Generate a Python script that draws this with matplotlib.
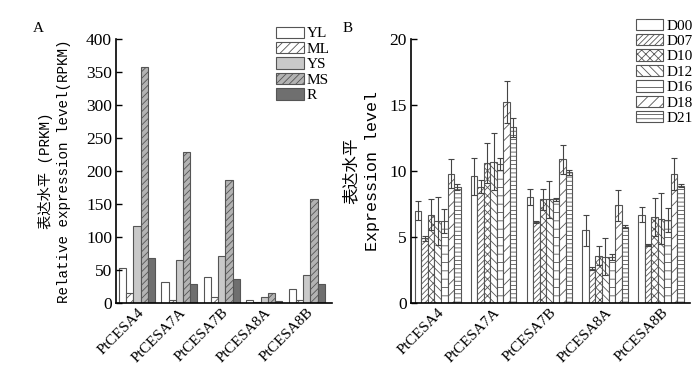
import numpy as np
import matplotlib
matplotlib.use("Agg")
from matplotlib import pyplot as plt

# --- data ---
genes = ["PtCESA4", "PtCESA7A", "PtCESA7B", "PtCESA8A", "PtCESA8B"]

tissues = ["YL", "ML", "YS", "MS", "R"]
rpkm_YL = [53, 32, 39, 4, 22]
rpkm_ML = [16, 5, 9, 1, 5]
rpkm_YS = [117, 65, 72, 10, 43]
rpkm_MS = [358, 229, 186, 16, 158]
rpkm_R = [68, 29, 37, 3, 29]

days = ["D00", "D07", "D10", "D12", "D16", "D18", "D21"]
expr_D00 = [7.0, 9.6, 8.05, 5.5, 6.7]
expr_D07 = [4.9, 8.8, 6.15, 2.6, 4.4]
expr_D10 = [6.7, 10.6, 7.85, 3.6, 6.5]
expr_D12 = [6.2, 10.7, 7.85, 3.5, 6.4]
expr_D16 = [6.2, 10.5, 7.85, 3.5, 6.3]
expr_D18 = [9.8, 15.2, 10.9, 7.4, 9.8]
expr_D21 = [8.8, 13.3, 9.9, 5.8, 8.9]

err_D00 = [0.7, 1.4, 0.6, 1.15, 0.55]
err_D07 = [0.2, 0.5, 0.1, 0.1, 0.1]
err_D10 = [1.2, 1.5, 0.8, 0.75, 1.45]
err_D12 = [1.8, 2.15, 1.4, 1.4, 1.9]
err_D16 = [0.9, 0.45, 0.1, 0.2, 0.9]
err_D18 = [1.1, 1.6, 1.1, 1.2, 1.2]
err_D21 = [0.2, 0.7, 0.2, 0.1, 0.1]

plt.rcParams["hatch.linewidth"] = 0.6
SERIF = "Liberation Serif"
MONO = ["Liberation Mono", "Noto Sans CJK SC"]
EDGE = "#555555"

fig = plt.figure(figsize=(7.0, 3.67), dpi=100)
ax_a = fig.add_axes([0.166, 0.174, 0.308, 0.72])
ax_b = fig.add_axes([0.587, 0.174, 0.399, 0.72])


def style_axis(ax):
    for s in ("top", "right"):
        ax.spines[s].set_visible(False)
    for s in ("left", "bottom"):
        ax.spines[s].set_linewidth(1.2)
    ax.tick_params(axis="y", direction="in", length=4, width=1.0, labelsize=12.5, pad=3)
    ax.tick_params(axis="x", length=0, labelsize=11, pad=2)
    for lab in ax.get_yticklabels():
        lab.set_fontfamily(SERIF)
    ax.set_xticks(np.arange(len(genes)))
    ax.set_xticklabels(genes, rotation=45, ha="right", rotation_mode="anchor",
                       fontfamily=SERIF)


legend_kw = dict(loc="upper right", frameon=False,
                 prop={"family": SERIF, "size": 11}, handlelength=1.8,
                 handleheight=0.75, labelspacing=0.1, handletextpad=0.2,
                 borderaxespad=0)

# --- panel A ---
x = np.arange(len(genes))
w_a = 0.17
a_series = [rpkm_YL, rpkm_ML, rpkm_YS, rpkm_MS, rpkm_R]
a_faces = ["white", "white", "#c9c9c9", "#b3b3b3", "#6f6f6f"]
a_hatch = [None, "////", None, "/////", None]
for i, (vals, fc, h) in enumerate(zip(a_series, a_faces, a_hatch)):
    ax_a.bar(x + (i - 2) * w_a, vals, w_a, color=fc, edgecolor=EDGE,
             linewidth=0.8, hatch=h, label=tissues[i])

ax_a.set_ylim(0, 400)
ax_a.set_xlim(-0.49, 4.59)
ax_a.set_yticks(range(0, 401, 50))
style_axis(ax_a)
ax_a.set_ylabel("表达水平 (PRKM)\nRelative expression level(RPKM)",
                fontfamily=MONO, fontsize=10.3, linespacing=1.3, labelpad=11)
ax_a.legend(bbox_to_anchor=(1.02, 1.07), **legend_kw)

# --- panel B ---
w_b = 0.117
b_series = [expr_D00, expr_D07, expr_D10, expr_D12, expr_D16, expr_D18, expr_D21]
b_errs = [err_D00, err_D07, err_D10, err_D12, err_D16, err_D18, err_D21]
b_hatch = [None, "//////", "xxxx", "\\\\\\\\", "--", "///", "----"]
for i, (vals, errs, h) in enumerate(zip(b_series, b_errs, b_hatch)):
    ax_b.bar(x + (i - 3) * w_b, vals, w_b, color="white", edgecolor=EDGE,
             linewidth=0.8, hatch=h, label=days[i])
    ax_b.errorbar(x + (i - 3) * w_b, vals, yerr=errs, fmt="none",
                  ecolor="#444444", elinewidth=0.8, capsize=2.2, capthick=0.8)

ax_b.set_ylim(0, 20)
ax_b.set_xlim(-0.48, 4.52)
ax_b.set_yticks(range(0, 21, 5))
style_axis(ax_b)
ax_b.set_ylabel("表达水平\nExpression level", fontfamily=MONO, fontsize=12,
                linespacing=1.5, labelpad=7)
ax_b.legend(bbox_to_anchor=(1.03, 1.1), **legend_kw)

fig.text(33 / 700, 1 - 28 / 367, "A", fontfamily=SERIF, fontsize=11, va="center")
fig.text(343 / 700, 1 - 28 / 367, "B", fontfamily=SERIF, fontsize=11, va="center")

fig.savefig("out.png", dpi=100)
